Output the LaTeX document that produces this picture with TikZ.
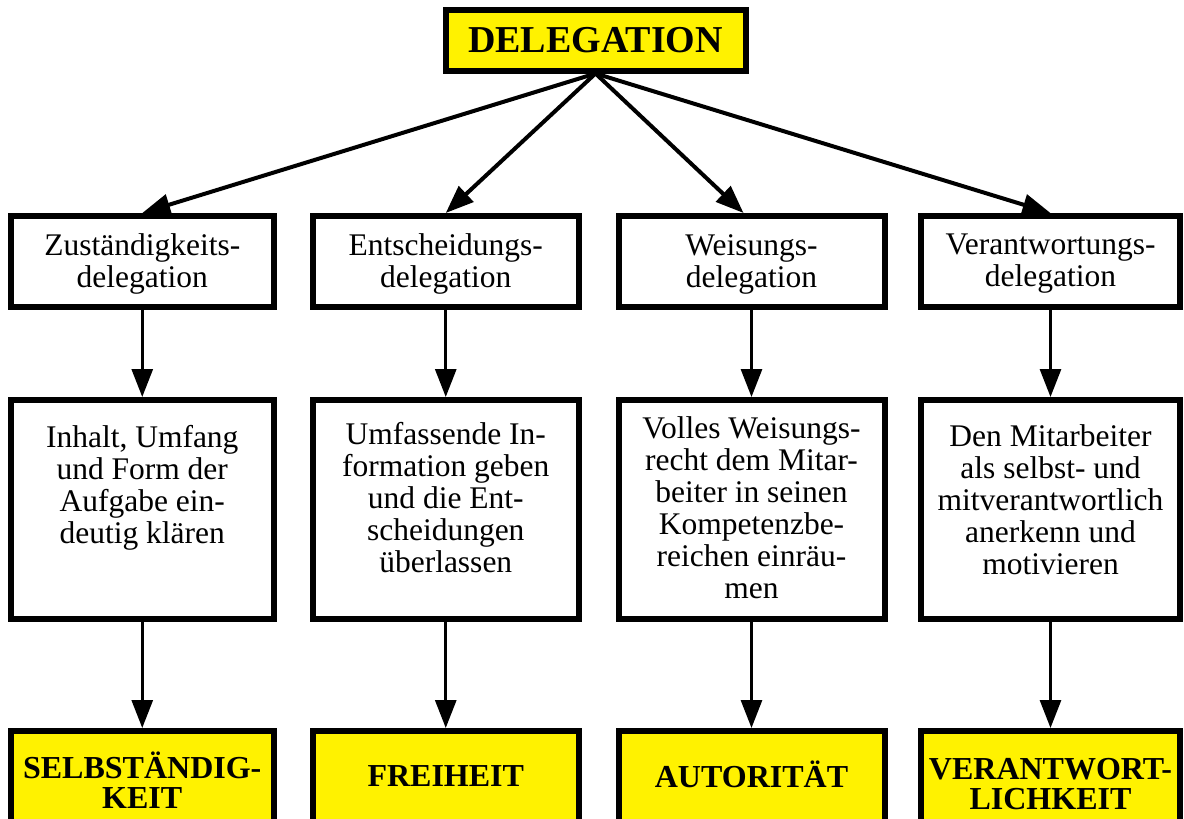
\documentclass[tikz,border=0pt]{standalone}
\usepackage{fontspec}
\setmainfont{Liberation Serif}
\usetikzlibrary{arrows.meta}
\definecolor{boxyellow}{RGB}{255,242,0}
\begin{document}
\begin{tikzpicture}[x=1pt,y=-1pt,
  box/.style={draw, line width=6pt, rectangle, inner sep=0pt, align=center},
  ybox/.style={box, fill=boxyellow},
  reg/.style={font=\fontsize{31.5}{32}\selectfont},
  bld/.style={font=\fontsize{32}{30}\selectfont\bfseries},
  txt/.style={inner sep=0pt, align=center},
  arr/.style={-{Triangle[length=28pt,width=21pt]}, line width=3pt},
  darr/.style={-{Triangle[length=28pt,width=21pt]}, line width=4pt},
]
\clip (0,0) rectangle (1184,819);
\fill[white] (0,0) rectangle (1184,819);

% top
\node[ybox, minimum width=300pt, minimum height=61pt, font=\fontsize{38}{38}\selectfont\bfseries] (top) at (595.5,40) {DELEGATION};

% row 1
\node[box, minimum width=263.5pt, minimum height=91pt] (a1) at (142.25,261.5) {};
\node[box, minimum width=265.5pt, minimum height=91pt] (a2) at (445.75,261.5) {};
\node[box, minimum width=266pt, minimum height=91pt] (a3) at (751.5,261.5) {};
\node[box, minimum width=259pt, minimum height=91pt] (a4) at (1050.5,261.5) {};
\node[txt, reg] (h1) at (142.25,264) {Zuständigkeits-\\delegation};
\node[txt, reg] (h2) at (445.75,264) {Entscheidungs-\\delegation};
\node[txt, reg] (h3) at (751.5,264) {Weisungs-\\delegation};
\node[txt, reg] (h4) at (1050.5,264) {Verantwortungs-\\delegation};

% row 2
\node[box, minimum width=263.5pt, minimum height=219pt] (b1) at (142.25,509.5) {};
\node[box, minimum width=265.5pt, minimum height=219pt] (b2) at (445.75,509.5) {};
\node[box, minimum width=266pt, minimum height=219pt] (b3) at (751.5,509.5) {};
\node[box, minimum width=259pt, minimum height=219pt] (b4) at (1050.5,509.5) {};
\node[txt, reg, anchor=north] (t1) at (142.25,424.8) {Inhalt, Umfang\\und Form der\\Aufgabe ein-\\deutig klären};
\node[txt, reg, anchor=north] (t2) at (445.75,421.8) {Umfassende In-\\formation geben\\und die Ent-\\scheidungen\\überlassen};
\node[txt, reg, anchor=north] (t3) at (751.5,416.8) {Volles Weisungs-\\recht dem Mitar-\\beiter in seinen\\Kompetenzbe-\\reichen einräu-\\men};
\node[txt, reg, anchor=north] (t4) at (1050.5,424.8) {Den Mitarbeiter\\als selbst- und\\mitverantwortlich\\anerkenn und\\motivieren};

% row 3
\node[ybox, minimum width=263.5pt, minimum height=119pt] (e1) at (142.25,790.5) {};
\node[ybox, minimum width=265.5pt, minimum height=119pt] (e2) at (445.75,790.5) {};
\node[ybox, minimum width=266pt, minimum height=119pt] (e3) at (751.5,790.5) {};
\node[ybox, minimum width=259pt, minimum height=119pt] (e4) at (1050.5,790.5) {};
\node[txt, bld] (s1) at (142.25,780) {SELBSTÄNDIG-\\KEIT};
\node[txt, bld] (s2) at (445.75,776.5) {FREIHEIT};
\node[txt, bld] (s3) at (751.5,774) {AUTORITÄT};
\node[txt, bld] (s4) at (1050.5,784) {VERANTWORT-\\LICHKEIT};

% connectors
\draw[darr] (top.south) -- (a1.north);
\draw[darr] (top.south) -- (a2.north);
\draw[darr] (top.south) -- ([xshift=-8pt]a3.north);
\draw[darr] (top.south) -- (a4.north);
\foreach \i in {1,2,3,4}{
  \draw[arr] (a\i) -- (b\i);
  \draw[arr] (b\i) -- (e\i);
}
\end{tikzpicture}
\end{document}
